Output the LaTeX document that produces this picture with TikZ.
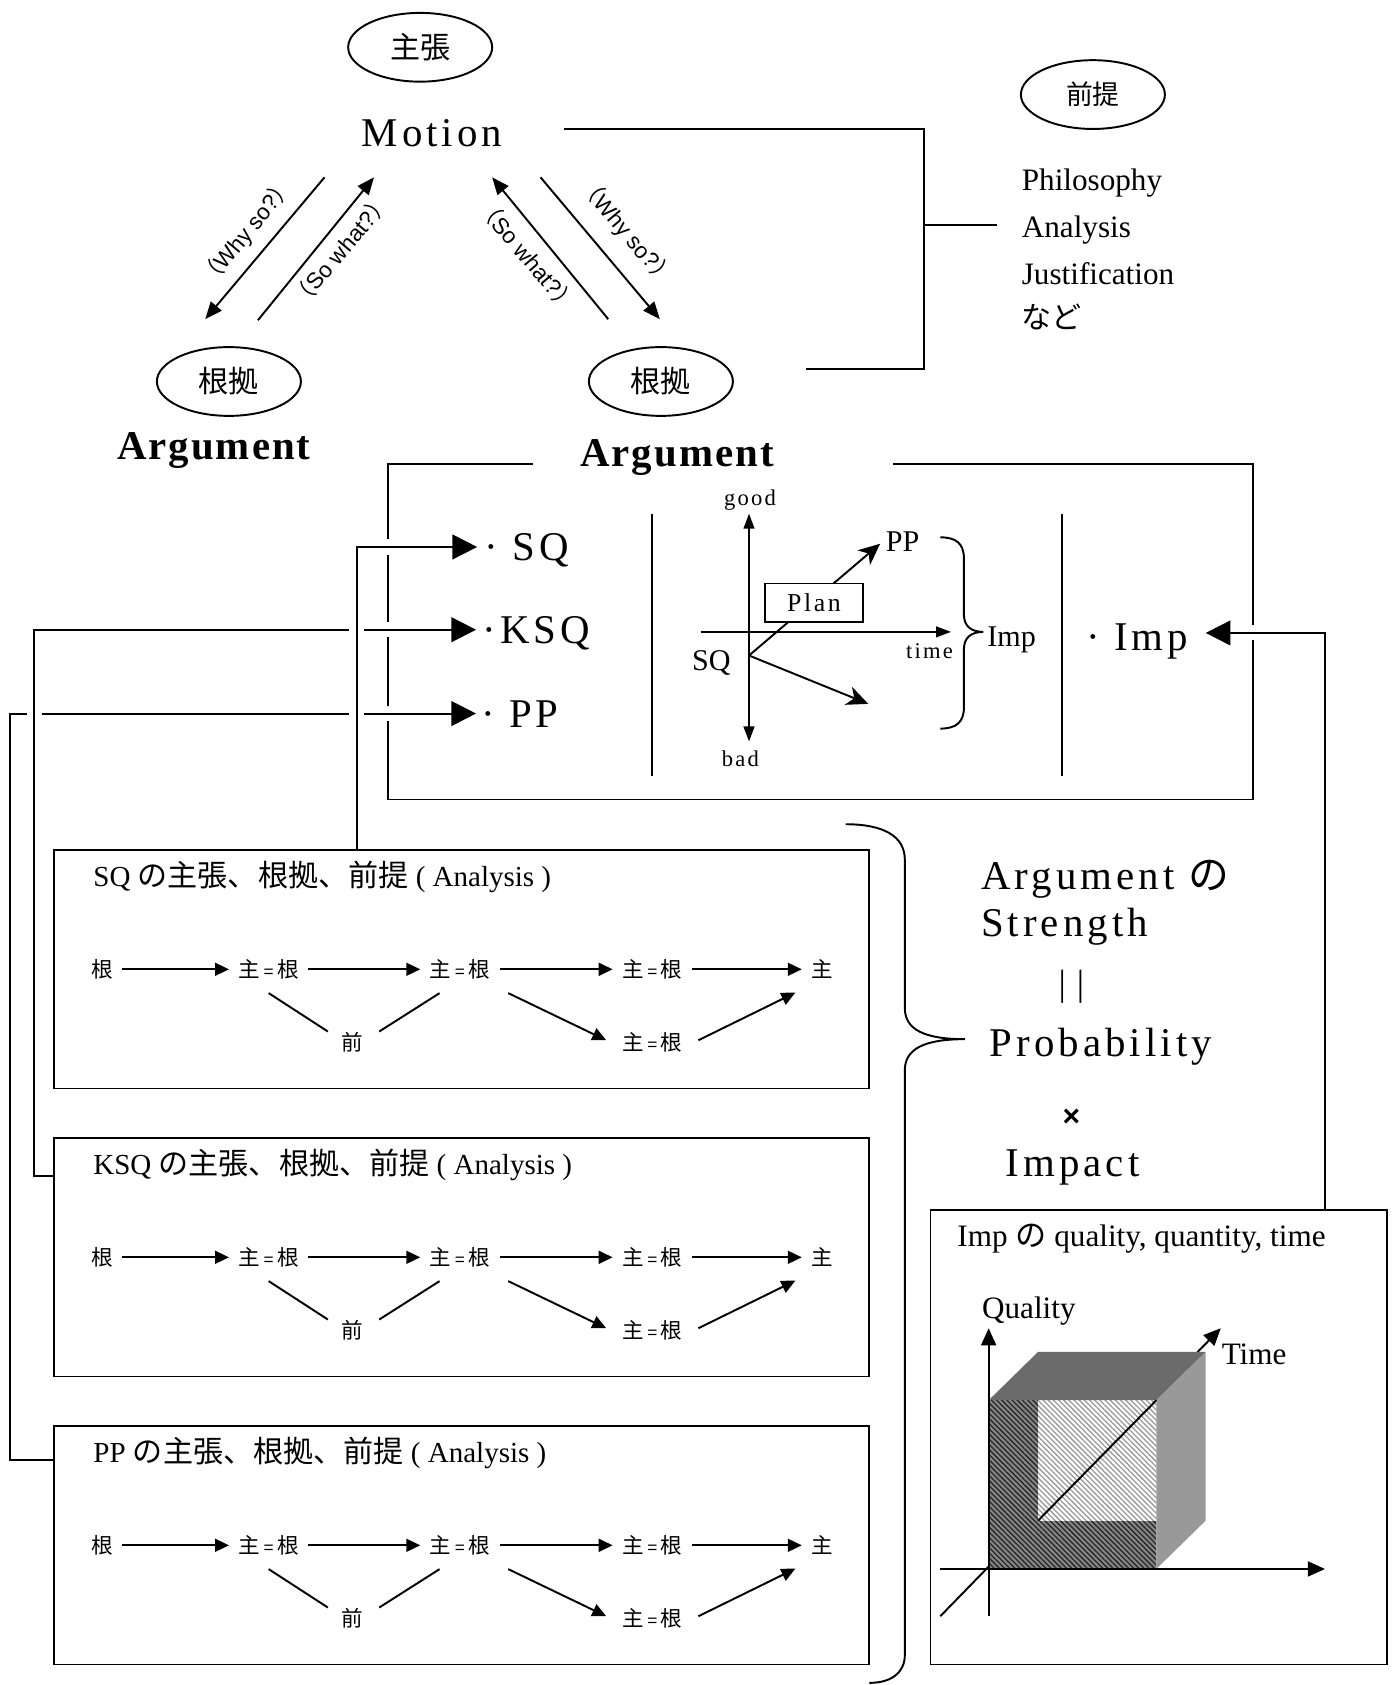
\documentclass[tikz,border=0pt]{standalone}
\usepackage{fontspec}
\setmainfont{Liberation Serif}
\newfontfamily\cjk{Noto Sans CJK JP}
\newfontfamily\sansf{Liberation Sans}
\newfontfamily\wide[LetterSpace=10]{Liberation Serif}
\newfontfamily\widebold[LetterSpace=5]{Liberation Serif}
\usetikzlibrary{arrows.meta,patterns.meta,shapes.geometric,calc}
\newcommand\mybig{\wide\fontsize{19}{22}\selectfont}
\newcommand\myser{\fontsize{14.5}{17}\selectfont}
\newcommand\mysmall{\fontsize{14}{16}\selectfont}
\newcommand\mytiny{\wide\fontsize{10.5}{12}\selectfont}
\newcommand\mychain{\cjk\fontsize{10}{12}\selectfont}
\newcommand\myrot{\sansf\fontsize{10.5}{12}\selectfont}
\newcommand\myeq{\,{\sansf\fontsize{8}{9}\selectfont =}\,}
\tikzset{
 every node/.style={inner sep=0pt},
 ell/.style={ellipse,draw,line width=0.9pt,minimum width=67pt,minimum height=32pt,font=\cjk\fontsize{14}{16}\selectfont},
 tri/.style={-{Triangle[length=8pt,width=6.5pt]}},
 bigtri/.style={-{Triangle[length=11.5pt,width=11.5pt]}},
 smtri/.style={-{Triangle[length=6.5pt,width=6pt]}},
 axtri/.style={-{Triangle[length=7pt,width=5pt]}},
 cubetri/.style={-{Triangle[length=8pt,width=7pt]}},
 stl/.style={-{Stealth[length=10pt,width=9pt,inset=3pt]}},
 halo/.style={draw=white,line width=7pt},
 chainnode/.style={font=\mychain,inner sep=4pt},
 bigtxt/.style={font=\mybig},
 hatchdark/.style={pattern={Lines[angle=-45,distance=1.7pt,line width=0.6pt]},pattern color=black!85},
 hatchlight/.style={pattern={Lines[angle=-45,distance=1.7pt,line width=0.6pt]},pattern color=black!40},
}
\begin{document}
\begin{tikzpicture}[x=0.5pt,y=-0.5pt,line width=0.9pt]
\useasboundingbox (0,0) rectangle (1297,1568);

% ---------------- top part
\node[ell] (claim) at (391,44) {主張};
\node[bigtxt,anchor=base] (motion) at (402,136) {Motion};
\node[ell,font=\cjk\fontsize{12.5}{14}\selectfont] (prem) at (1017,88) {前提};
\node[ell] (grL) at (213,355) {根拠};
\node[ell] (grR) at (615,355) {根拠};
\node[font=\widebold\bfseries\fontsize{19}{22}\selectfont,anchor=base] (argL) at (199,428) {Argument};
\node[font=\widebold\bfseries\fontsize{19}{22}\selectfont,anchor=base] (argR) at (630,434) {Argument};

\node[font=\myser,anchor=base west] (phil) at (950,177) {Philosophy};
\node[font=\myser,anchor=base west] (ana) at (950,221) {Analysis};
\node[font=\myser,anchor=base west] (just) at (950,265) {Justification};
\node[font=\cjk\fontsize{14}{16}\selectfont,anchor=base west] (nado) at (950,306) {など};

\coordinate (mA) at (525,120);
\coordinate (mB) at (860,120);
\coordinate (mC) at (860,343);
\coordinate (mD) at (750,343);
\coordinate (mE) at (860,209);
\coordinate (mF) at (928,209);
\draw (mA) -- (mB) -- (mC) -- (mD);
\draw (mE) -- (mF);

\coordinate (l1a) at (302,165); \coordinate (l1b) at (191,297);
\coordinate (l2a) at (240,298); \coordinate (l2b) at (348,165);
\coordinate (r1a) at (566,297); \coordinate (r1b) at (458,165);
\coordinate (r2a) at (503,165); \coordinate (r2b) at (614,297);
\draw[tri] (l1a) -- (l1b);
\draw[tri] (l2a) -- (l2b);
\draw[tri] (r1a) -- (r1b);
\draw[tri] (r2a) -- (r2b);
\node[font=\myrot,rotate=50] (lwhy) at (230,216) {{\cjk （}Why so?{\cjk ）}};
\node[font=\myrot,rotate=50] (lso) at (317,233) {{\cjk （}So what?{\cjk ）}};
\node[font=\myrot,rotate=-50] (rso) at (491,238) {{\cjk （}So what?{\cjk ）}};
\node[font=\myrot,rotate=-50] (rwhy) at (583,216) {{\cjk （}Why so?{\cjk ）}};

% ---------------- middle box
\coordinate (gapL) at (496,432);
\coordinate (bTL) at (361,432);
\coordinate (bBL) at (361,744);
\coordinate (bBR) at (1166,744);
\coordinate (bTR) at (1166,432);
\coordinate (gapR) at (831,432);
\draw (gapL) -- (bTL) -- (bBL) -- (bBR) -- (bTR) -- (gapR);
\coordinate (d1a) at (607,478); \coordinate (d1b) at (607,722);
\coordinate (d2a) at (988,478); \coordinate (d2b) at (988,722);
\draw (d1a) -- (d1b);
\draw (d2a) -- (d2b);

\node[bigtxt,anchor=base west] (sqItem) at (450,522) {· SQ};
\node[bigtxt,anchor=base west] (ksqItem) at (448,599) {·KSQ};
\node[bigtxt,anchor=base west] (ppItem) at (447,677) {· PP};
\node[bigtxt,anchor=base west] (impItem) at (1010,605) {· Imp};

% graph
\coordinate (gTop) at (697,478);
\coordinate (gBot) at (697,690);
\coordinate (o) at (697,610);
\coordinate (tL) at (652,588);
\coordinate (tR) at (885,588);
\coordinate (ppTip) at (819,506);
\coordinate (downTip) at (808,655);
\draw[{Triangle[length=7pt,width=5pt]}-{Triangle[length=7pt,width=5pt]}] (gBot) -- (gTop);
\draw[axtri] (tL) -- (tR);
\draw[stl] (o) -- (ppTip);
\draw[stl] (o) -- (downTip);
\node[draw,fill=white,minimum width=45.5pt,minimum height=18pt,font=\wide\fontsize{12}{14}\selectfont] (plan) at (757.5,561) {Plan};
\node[font=\mytiny,anchor=base] (good) at (698,470) {good};
\node[font=\mytiny,anchor=base] (bad) at (689,713) {bad};
\node[font=\mytiny,anchor=base] (timelbl) at (865,613) {time};
\node[font=\mysmall,anchor=base] (sqlbl) at (662,624) {SQ};
\node[font=\mysmall,anchor=base] (pplbl) at (840,513) {PP};
\node[font=\mysmall,anchor=base west] (implbl) at (918,602) {Imp};
\draw (875,500) .. controls (890,500) and (897,506) .. (897,520) -- (897,572)
  .. controls (897,582) and (903,588) .. (915,588)
  .. controls (903,588) and (897,594) .. (897,604) -- (897,658)
  .. controls (897,672) and (890,678) .. (875,678);

% ---------------- lower boxes
\foreach \dy/\nm/\lab in {0/s/SQ,268/k/KSQ,536/p/PP}{
  \node[draw,anchor=north west,minimum width=379.5pt,minimum height=111pt] (\nm-box) at (49,790+\dy) {};
  \node[font=\fontsize{13.5}{15}\selectfont,anchor=base west] (\nm-title) at (86,825+\dy) {\lab\ {\cjk\fontsize{14}{15}\selectfont の主張、根拠、前提} ( Analysis )};
  \node[chainnode] (\nm-r) at (95,902+\dy) {根};
  \node[chainnode] (\nm-a1) at (250,902+\dy) {主\myeq 根};
  \node[chainnode] (\nm-a2) at (428,902+\dy) {主\myeq 根};
  \node[chainnode] (\nm-a3) at (607,902+\dy) {主\myeq 根};
  \node[chainnode] (\nm-c) at (765,902+\dy) {主};
  \node[chainnode] (\nm-p) at (328,970+\dy) {前};
  \node[chainnode] (\nm-b) at (607,970+\dy) {主\myeq 根};
  \draw[smtri] (\nm-r) -- (\nm-a1);
  \draw[smtri] (\nm-a1) -- (\nm-a2);
  \draw[smtri] (\nm-a2) -- (\nm-a3);
  \draw[smtri] (\nm-a3) -- (\nm-c);
  \draw ($(\nm-a1.south)+(0,4)$) -- ($(\nm-p.north west)+(-4,8)$);
  \draw ($(\nm-p.north east)+(6,8)$) -- ($(\nm-a2.south west)+(18,4)$);
  \draw[smtri] ($(\nm-a2.south east)+(8,4)$) -- ($(\nm-b.west)+(-6,-2)$);
  \draw[smtri] ($(\nm-b.east)+(6,-2)$) -- ($(\nm-c.south west)+(-6,4)$);
}

% ---------------- Imp box
\node[draw,anchor=north west,minimum width=212.5pt,minimum height=211.5pt] (impbox) at (865,1125) {};
\node[font=\myser,anchor=base west] (imptitle) at (890,1160) {Imp {\cjk の} quality, quantity, time};
\coordinate (O) at (920,1460);
\coordinate (tA) at (875,1504);
\coordinate (tB) at (1136,1236);
\coordinate (qA) at (920,1504);
\coordinate (qB) at (920,1236);
\coordinate (hA) at (875,1460);
\coordinate (hB) at (1233,1460);
\draw[cubetri] (tA) -- (tB);
\fill[black!48] (920,1303) -- (966,1303) -- (966,1415) -- (1076,1415) -- (1076,1460) -- (920,1460) -- cycle;
\path[hatchdark] (920,1303) -- (966,1303) -- (966,1415) -- (1076,1415) -- (1076,1460) -- (920,1460) -- cycle;
\fill[white] (966,1303) rectangle (1076,1415);
\path[hatchlight] (966,1303) rectangle (1076,1415);
\fill[black!58] (920,1303) -- (966,1258) -- (1122,1258) -- (1076,1303) -- cycle;
\fill[black!40] (1076,1303) -- (1122,1258) -- (1122,1415) -- (1076,1460) -- cycle;
\draw (966,1415) -- (1076,1303);
\draw[cubetri] (qA) -- (qB);
\draw[cubetri] (hA) -- (hB);
\node[font=\myser,anchor=base west] (quality) at (913,1227) {Quality};
\node[font=\myser,anchor=base west] (timeax) at (1136,1270) {Time};

% ---------------- right texts
\node[bigtxt,anchor=base west] (strA) at (912,828) {Argument {\cjk の}};
\node[bigtxt,anchor=base west] (strB) at (912,871) {Strength};
\node[font=\fontsize{17}{20}\selectfont] (eqbars) at (997,918) {|\kern5pt|};
\node[bigtxt,anchor=base west] (prob) at (920,983) {Probability};
\node[font=\sansf\bfseries\fontsize{14}{16}\selectfont] (times) at (997,1040) {×};
\node[bigtxt,anchor=base west] (impact) at (935,1095) {Impact};

\draw (787,767) .. controls (822,767) and (842,778) .. (842,800) -- (842,938)
  .. controls (842,958) and (860,967) .. (898,967)
  .. controls (860,967) and (842,976) .. (842,996) -- (842,1540)
  .. controls (842,1556) and (830,1566) .. (809,1566);

% ---------------- connectors with crossing gaps
\coordinate (ppS) at (49,1359);
\coordinate (ppC) at (9,1359);
\coordinate (ppD) at (9,664);
\coordinate (ppTipL) at (443,664);
\draw[halo,shorten <=1pt] (ppS) -- (ppC) -- (ppD) -- (ppTipL);
\draw[bigtri] (ppS) -- (ppC) -- (ppD) -- (ppTipL);

\coordinate (ksqS) at (49,1094);
\coordinate (ksqC) at (32,1094);
\coordinate (ksqD) at (32,586);
\coordinate (ksqTip) at (443,586);
\draw[halo,shorten <=1pt] (ksqS) -- (ksqC) -- (ksqD) -- (ksqTip);
\draw[bigtri] (ksqS) -- (ksqC) -- (ksqD) -- (ksqTip);

\coordinate (sqS) at (332,790);
\coordinate (sqC) at (332,509);
\coordinate (sqTip) at (444,509);
\draw[halo,shorten <=1pt] (sqS) -- (sqC) -- (sqTip);
\draw[bigtri] (sqS) -- (sqC) -- (sqTip);

\coordinate (impS) at (1233,1125);
\coordinate (impC) at (1233,589);
\coordinate (impTip) at (1122,589);
\draw[halo,shorten <=1pt] (impS) -- (impC) -- (impTip);
\draw[bigtri] (impS) -- (impC) -- (impTip);
\end{tikzpicture}
\end{document}
